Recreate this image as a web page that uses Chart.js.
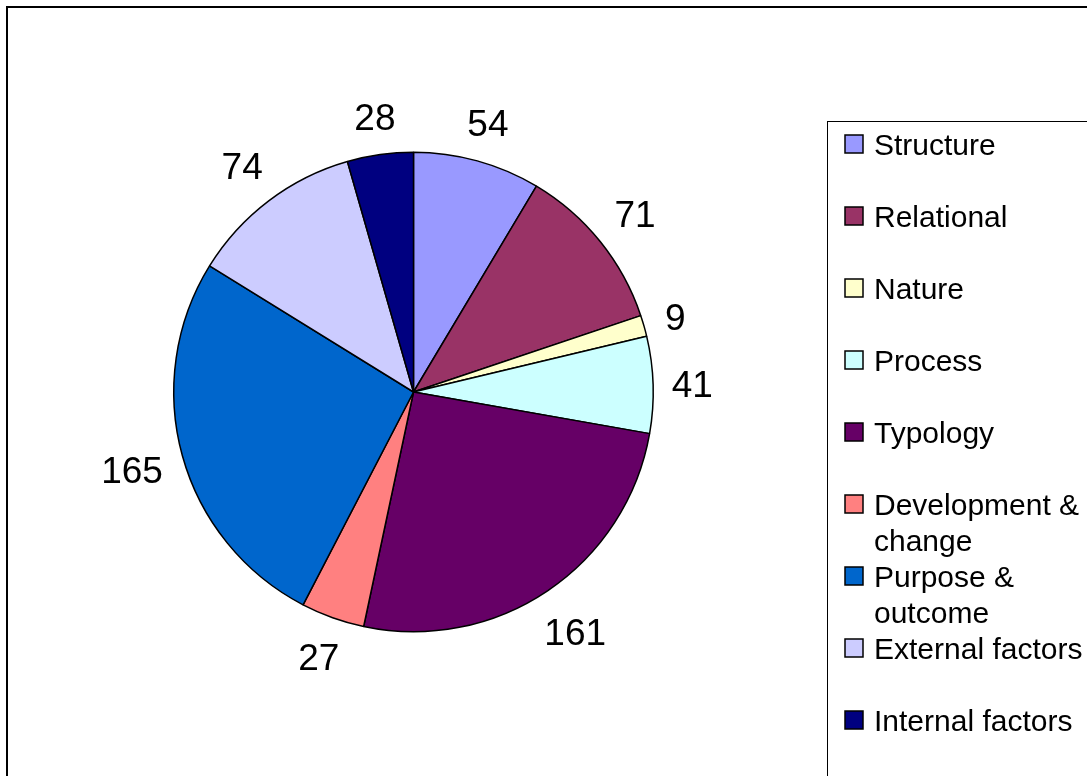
<!DOCTYPE html>
<html>
<head>
<meta charset="utf-8">
<script src="https://cdn.jsdelivr.net/npm/chart.js@4"></script>
<style>
  html, body { margin: 0; padding: 0; background: #fff; }
  canvas { display: block; }
</style>
</head>
<body>
<canvas id="pieChart" width="1087" height="776"></canvas>
<script>
// --- data ---
const categories = ['Structure', 'Relational', 'Nature', 'Process', 'Typology',
                    'Development & change', 'Purpose & outcome', 'External factors', 'Internal factors'];
const counts = [54, 71, 9, 41, 161, 27, 165, 74, 28];
const sliceColors = ['#9999FF', '#993366', '#FFFFCC', '#CCFFFF', '#660066',
                     '#FF8080', '#0066CC', '#CCCCFF', '#000080'];

const FONT = '"Liberation Sans", Arial, sans-serif';

// value labels outside the slices + frame + legend box, drawn on top
const decorations = {
    id: 'decorations',
    afterDraw(chart) {
        const ctx = chart.ctx;
        const meta = chart.getDatasetMeta(0);

        // --- value labels ---
        const size = 37;
        ctx.save();
        ctx.font = `${size}px ${FONT}`;
        ctx.fillStyle = '#000';
        ctx.textAlign = 'center';
        ctx.textBaseline = 'alphabetic';
        meta.data.forEach((arc, i) => {
            const p = arc.getProps(['x', 'y', 'startAngle', 'endAngle', 'outerRadius'], true);
            const mid = (p.startAngle + p.endAngle) / 2;
            const txt = String(counts[i]);
            const w = ctx.measureText(txt).width;
            const h = size * 0.92;
            const ext = Math.abs(Math.cos(mid)) * w / 2 + Math.abs(Math.sin(mid)) * h / 2;
            const d = p.outerRadius + 18 + ext;
            const cx = p.x + Math.cos(mid) * d;
            const cy = p.y + Math.sin(mid) * d;
            ctx.fillText(txt, cx, cy + size * 0.716 / 2);
        });
        ctx.restore();

        // --- outer frame ---
        ctx.save();
        ctx.strokeStyle = '#000';
        ctx.lineWidth = 2;
        ctx.strokeRect(7, 7, 1200, 900);
        ctx.restore();

        // --- legend ---
        ctx.save();
        ctx.strokeStyle = '#000';
        ctx.lineWidth = 1;
        ctx.strokeRect(827.5, 121.5, 400, 800);

        const lsize = 30;
        ctx.font = `${lsize}px ${FONT}`;
        ctx.textAlign = 'left';
        ctx.textBaseline = 'alphabetic';
        const maxW = 214;
        categories.forEach((name, i) => {
            const y = 144 + 72 * i;
            ctx.fillStyle = sliceColors[i];
            ctx.fillRect(845, y - 9, 18, 18);
            ctx.strokeStyle = '#000';
            ctx.lineWidth = 1.5;
            ctx.strokeRect(845, y - 9, 18, 18);

            // wrap long names like the original
            const words = name.split(' ');
            const lines = [];
            let cur = '';
            words.forEach(wd => {
                const test = cur ? cur + ' ' + wd : wd;
                if (cur && ctx.measureText(test).width > maxW) {
                    lines.push(cur);
                    cur = wd;
                } else {
                    cur = test;
                }
            });
            lines.push(cur);

            ctx.fillStyle = '#000';
            lines.forEach((ln, k) => {
                ctx.fillText(ln, 874, y + 36 * k + lsize * 0.716 / 2);
            });
        });
        ctx.restore();
    }
};

new Chart(document.getElementById('pieChart'), {
    type: 'pie',
    data: {
        labels: categories,
        datasets: [{
            data: counts,
            backgroundColor: sliceColors,
            borderColor: '#000',
            borderWidth: 1.5
        }]
    },
    options: {
        responsive: false,
        animation: false,
        layout: { padding: { left: 173, right: 433, top: 151, bottom: 143 } },
        plugins: {
            legend: { display: false },
            tooltip: { enabled: false }
        }
    },
    plugins: [decorations]
});
</script>
</body>
</html>
